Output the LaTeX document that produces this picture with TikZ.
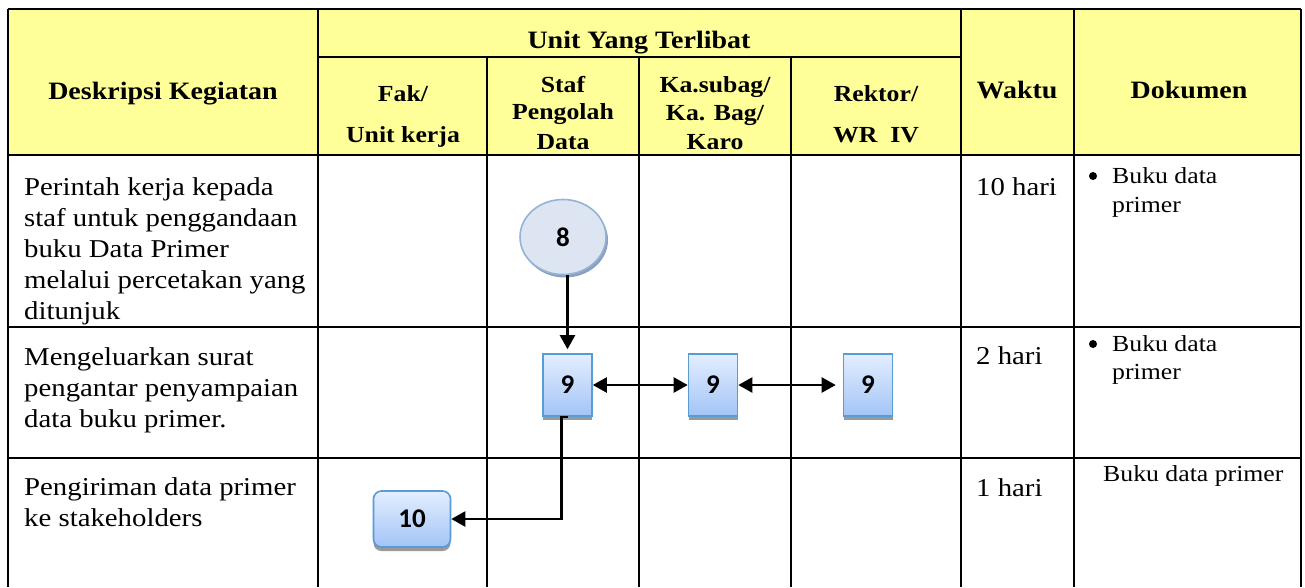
\documentclass[tikz,border=0pt]{standalone}
\usepackage{fontspec}
\setmainfont{Liberation Serif}[FakeStretch=1.12]
\newfontfamily\numfont{Carlito}
\usetikzlibrary{arrows.meta,shapes.geometric,shadows}

\definecolor{headyellow}{HTML}{FFFF99}
\definecolor{boxline}{HTML}{5B9BD5}
\definecolor{boxtop}{HTML}{E3EEFF}
\definecolor{boxbottom}{HTML}{A3C4F6}
\definecolor{circfill}{HTML}{DCE5F1}
\definecolor{circline}{HTML}{95B3D7}
\definecolor{circshadow}{HTML}{8AA0BC}

\tikzset{
	grid/.style={line width=2.2pt},
	head/.style={font=\fontsize{25}{30}\selectfont\bfseries, anchor=base, inner sep=0pt},
	subhead/.style={font=\fontsize{23}{28}\selectfont\bfseries, anchor=base, inner sep=0pt},
	body/.style={font=\fontsize{25.7}{31}\selectfont, anchor=base west, inner sep=0pt},
	doc/.style={font=\fontsize{23}{28}\selectfont, anchor=base west, inner sep=0pt},
	dot/.style={circle, fill=black, inner sep=0pt, minimum size=8pt},
	startnode/.style={ellipse, draw=circline, line width=1.6pt, fill=circfill,
			minimum width=86pt, minimum height=75pt, inner sep=0pt,
			font=\numfont\fontsize{27}{27}\selectfont\bfseries,
			drop shadow={shadow xshift=2pt, shadow yshift=-3pt, fill=circshadow, opacity=1}},
	stepbox/.style={rectangle, draw=boxline, line width=1.6pt, top color=boxtop, bottom color=boxbottom,
			minimum width=49pt, minimum height=62pt, inner sep=0pt,
			font=\numfont\fontsize{27}{27}\selectfont\bfseries,
			drop shadow={shadow xshift=0pt, shadow yshift=-4pt, fill=black!40, opacity=1}},
	endbox/.style={stepbox, rounded corners=8pt, minimum width=77pt, minimum height=56pt},
	flow/.style={line width=2.3pt, -{Triangle[length=14pt,width=15pt]}},
	twoway/.style={line width=2.3pt, {Triangle[length=14pt,width=15pt]}-{Triangle[length=14pt,width=15pt]}},
}

\begin{document}
\begin{tikzpicture}[x=1pt,y=-1pt]
	\useasboundingbox[fill=white] (0,0) rectangle (1305,587);

	% header and grid
	\fill[headyellow] (8,9) rectangle (1301,155);
	\foreach \xx in {8,318,961,1074,1301} {
			\draw[grid] (\xx,9) -- (\xx,587);
		}
	\foreach \xx in {487,639,791} {
			\draw[grid] (\xx,57) -- (\xx,587);
		}
	\draw[grid] (8,9) -- (1301,9);
	\draw[grid] (318,57) -- (961,57);
	\foreach \yy in {155,327,458} {
			\draw[grid] (8,\yy) -- (1301,\yy);
		}

	\node[head] (hdesc) at (163,99) {Deskripsi Kegiatan};
	\node[head] (hunit) at (639,48) {Unit Yang Terlibat};
	\node[head] (hwaktu) at (1017,98) {Waktu};
	\node[head] (hdok) at (1189,98) {Dokumen};
	\node[subhead] (hfak1) at (403,101) {Fak/};
	\node[subhead] (hfak2) at (403,142) {Unit kerja};
	\node[subhead] (hstaf1) at (563,92) {Staf};
	\node[subhead] (hstaf2) at (563,119) {Pengolah};
	\node[subhead] (hstaf3) at (563,149) {Data};
	\node[subhead] (hka1) at (715,92) {Ka.subag/};
	\node[subhead] (hka2) at (715,120) {Ka. Bag/};
	\node[subhead] (hka3) at (715,149) {Karo};
	\node[subhead] (hrek1) at (876,101) {Rektor/};
	\node[subhead] (hrek2) at (876,142) {WR~~IV};

	% rows
	\foreach \txt [count=\k] in {Perintah kerja kepada, staf untuk penggandaan, buku Data Primer, melalui percetakan yang, ditunjuk}
	\node[body] (descA\k) at (24,{195+31*(\k-1)}) {\txt};
	\foreach \txt [count=\k] in {Mengeluarkan surat, pengantar penyampaian, data buku primer.}
	\node[body] (descB\k) at (24,{365+31*(\k-1)}) {\txt};
	\foreach \txt [count=\k] in {Pengiriman data primer, ke stakeholders}
	\node[body] (descC\k) at (24,{495+31*(\k-1)}) {\txt};

	\node[body] (timeA) at (976,195) {10 hari};
	\node[body] (timeB) at (976,364) {2 hari};
	\node[body] (timeC) at (976,496) {1 hari};

	\node[dot] (bulA) at (1093,176) {};
	\node[doc] (docA1) at (1112,183) {Buku data};
	\node[doc] (docA2) at (1112,212) {primer};
	\node[dot] (bulB) at (1093,344) {};
	\node[doc] (docB1) at (1112,351) {Buku data};
	\node[doc] (docB2) at (1112,379) {primer};
	\node[doc] (docC) at (1103,481) {Buku data primer};

	% flow
	\node[startnode] (c8) at (563,237) {8};
	\node[stepbox] (b9a) at (567.5,385) {9};
	\node[stepbox] (b9b) at (713,385) {9};
	\node[stepbox] (b9c) at (868,385) {9};
	\node[endbox] (b10) at (412,519) {10};

	\draw[flow, shorten >=4pt] (c8.south -| b9a.north) -- (b9a.north);
	\draw[twoway] (b9a.east) -- (b9b.west);
	\draw[twoway, shorten >=7pt] (b9b.east) -- (b9c.west);
	\draw[flow] (b9a.south) -- ++(-6,0) |- (b10.east);
\end{tikzpicture}
\end{document}
